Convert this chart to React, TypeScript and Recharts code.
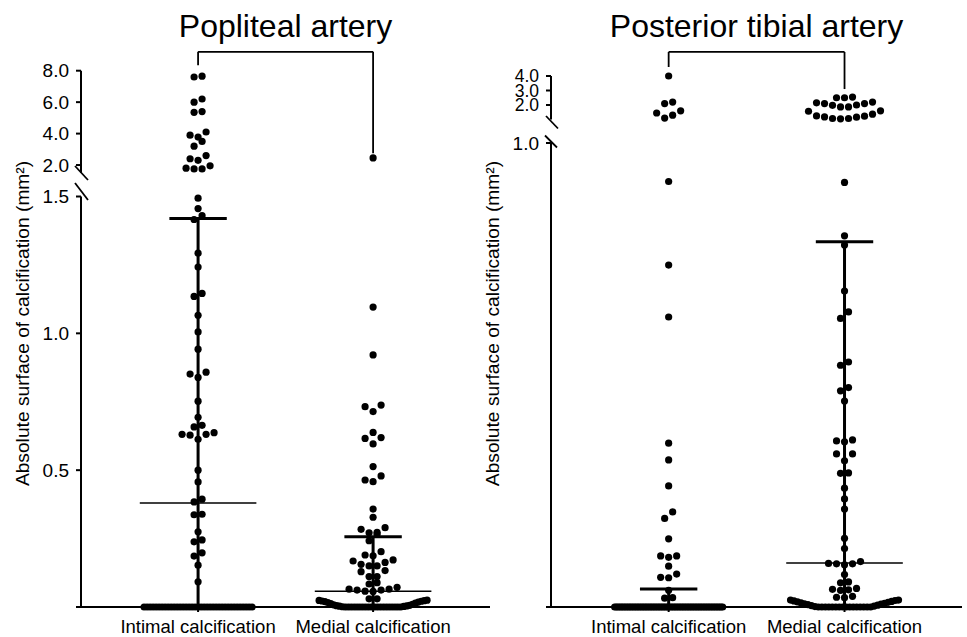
import React from 'react';
import { ScatterChart, Scatter, XAxis, YAxis, ReferenceLine } from 'recharts';

const FONT = '"Liberation Sans", Arial, sans-serif';

const categories = ['Intimal calcification', 'Medial calcification'];

// Popliteal artery, absolute calcified surface (mm2)
const popIntimal = [
  7.65, 7.6, 6.2, 6.0, 5.4, 5.35, 4.1, 3.9, 3.78, 3.5, 3.2, 2.6, 2.4, 2.3, 1.95, 1.8, 1.75, 1.75,
  1.494, 1.456, 1.43, 1.416, 1.293, 1.242, 1.146, 1.135, 1.066, 1.005, 0.942, 0.858, 0.851, 0.839,
  0.752, 0.693, 0.664, 0.658, 0.637, 0.631, 0.631, 0.628, 0.613, 0.5, 0.457, 0.394, 0.384, 0.339,
  0.337, 0.275, 0.245, 0.238, 0.198, 0.186, 0.153, 0.092,
  0, 0, 0, 0, 0, 0, 0, 0, 0, 0,
  0, 0, 0, 0, 0, 0, 0, 0, 0, 0,
  0, 0, 0, 0, 0, 0, 0, 0, 0, 0,
  0, 0, 0, 0, 0, 0, 0,
];
const popMedial = [
  2.45, 1.096, 0.921, 0.738, 0.732, 0.714, 0.638, 0.619, 0.616, 0.596, 0.513, 0.479, 0.464, 0.458,
  0.358, 0.328, 0.29, 0.284, 0.273, 0.271, 0.266, 0.242, 0.202, 0.19, 0.187, 0.172, 0.168, 0.163,
  0.156, 0.15, 0.15, 0.133, 0.129, 0.111, 0.111, 0.089, 0.084, 0.072, 0.065, 0.065, 0.062, 0.062,
  0.058, 0.057, 0.03, 0.03,
  0.025, 0.024, 0.023, 0.022, 0.021, 0.02, 0.018, 0.016, 0.014, 0.012, 0.01, 0.008, 0.006, 0.005,
  0.004, 0.003, 0.002, 0.001,
  0, 0, 0, 0, 0, 0, 0, 0, 0, 0,
  0, 0, 0, 0, 0, 0, 0, 0, 0, 0,
];
const popMedian = [0.38, 0.058];
const popQ3 = [1.42, 0.257];

// Posterior tibial artery
const tibIntimal = [
  4.0, 2.2, 2.1, 1.6, 1.45, 1.3, 1.1,
  0.917, 0.737, 0.625, 0.353, 0.317, 0.261, 0.205, 0.191, 0.147, 0.11, 0.11, 0.107, 0.088,
  0.071, 0.064, 0.063, 0.036, 0.02, 0.019,
  0, 0, 0, 0, 0, 0, 0, 0, 0, 0,
  0, 0, 0, 0, 0, 0, 0, 0, 0, 0,
  0, 0, 0, 0, 0, 0, 0, 0, 0, 0,
  0, 0, 0, 0, 0, 0, 0, 0, 0, 0,
  0, 0, 0, 0, 0, 0, 0, 0, 0, 0,
  0, 0, 0, 0, 0, 0, 0, 0, 0, 0,
  0, 0, 0, 0, 0, 0, 0, 0,
];
const tibMedial = [
  2.55, 2.5, 2.5, 2.2, 2.15, 2.1, 2.1, 2.0, 1.98, 1.87, 1.87,
  1.6, 1.57, 1.37, 1.25, 1.23, 1.18, 1.16, 1.07, 1.07, 1.05,
  0.915, 0.8, 0.78, 0.681, 0.636, 0.622, 0.528, 0.521, 0.473, 0.466, 0.444, 0.36, 0.358, 0.356,
  0.33, 0.33, 0.315, 0.289, 0.288, 0.256, 0.233, 0.211, 0.148, 0.126, 0.098, 0.094, 0.093, 0.093,
  0.091, 0.07, 0.054, 0.052, 0.04, 0.038, 0.037, 0.036, 0.023, 0.021, 0.02,
  0.015, 0.015, 0.014, 0.013, 0.012, 0.011, 0.01, 0.009, 0.008, 0.007, 0.006, 0.005, 0.004,
  0.003, 0.002, 0.001,
  0, 0, 0, 0, 0, 0, 0, 0, 0, 0, 0, 0, 0, 0, 0, 0,
];
const tibMedian = [0, 0.095];
const tibQ3 = [0.039, 0.787];

// layout (page pixels)
const PAGE_H = 637;
const Y_W = 60;
const X_H = 30;
const X_DOMAIN = [0.331, 2.668];
const DOT_R = 3.6;
const GAP = 8;
const MAX_HALF = 54;
const CAP_HALF = 28.7;
const MED_HALF = 58.3;

const POP = {
  title: 'Popliteal artery',
  axisX: 81,
  right: 490,
  breakAt: 1.5,
  lower: { top: 196.5, bottom: 607, domain: [0, 1.5], ticks: [0, 0.5, 1, 1.5], fs: 19 },
  upper: { top: 70.7, bottom: 172.9, domain: [1.5, 8], ticks: [2, 4, 6, 8], fs: 19 },
  bracket: { top: 9.2, left: 8.35, right: 2.75 },
  slashes: [[75, 166, 88, 180], [75, 183, 88, 200]],
};
const TIB = {
  title: 'Posterior tibial artery',
  axisX: 551,
  right: 962,
  breakAt: 1.0,
  lower: { top: 143, bottom: 607, domain: [0, 1], ticks: [0, 1], fs: 19 },
  upper: { top: 76, bottom: 119.5, domain: [1, 4], ticks: [2, 3, 4], fs: 17.5 },
  bracket: { top: 5.66, left: 4.62, right: 3.1 },
  slashes: [[546, 116, 558, 128.5], [545, 135.5, 557, 147.5]],
};

// GraphPad-like scatter layout: rows of close values spread side by side
function swarm(values: number[], cat: number, seg: any, unitPx: number, rowH: number) {
  const scale = (seg.bottom - seg.top) / (seg.domain[1] - seg.domain[0]);
  const sorted = [...values].sort((a, b) => a - b);
  const rows: number[][] = [];
  for (const v of sorted) {
    const last = rows[rows.length - 1];
    if (last && (v - last[0]) * scale <= rowH) last.push(v);
    else rows.push([v]);
  }
  const out: { x: number; y: number }[] = [];
  rows.forEach((row) => {
    const n = row.length;
    const sp = n > 1 ? Math.min(GAP, (2 * MAX_HALF) / (n - 1)) : 0;
    row.forEach((v, i) => {
      const slot = n % 2 === 1
        ? Math.ceil(i / 2) * (i % 2 === 1 ? -1 : 1)
        : (Math.floor(i / 2) + 0.5) * (i % 2 === 0 ? -1 : 1);
      out.push({ x: cat + (slot * sp) / unitPx, y: v });
    });
  });
  return out;
}

const Dot = (p: any) => <circle cx={p.cx} cy={p.cy} r={DOT_R} fill="#000" />;

function Segment({ geo, part, groups, median, q3 }: any) {
  const seg = geo[part];
  const isLower = part === 'lower';
  const wrapLeft = geo.axisX - 81;
  const width = geo.right - wrapLeft + 6;
  const unitPx = (geo.right - geo.axisX) / (X_DOMAIN[1] - X_DOMAIN[0]);
  const rowH = isLower ? 7 : 8.5;
  const points = groups.flatMap((vals: number[], i: number) =>
    swarm(vals.filter((v) => (isLower ? v <= geo.breakAt : v > geo.breakAt)), i + 1, seg, unitPx, rowH)
  );
  const b = geo.bracket;
  return (
    <div style={{ position: 'absolute', left: wrapLeft, top: 0 }}>
      <ScatterChart
        width={width}
        height={PAGE_H}
        margin={{ top: seg.top, right: 6, left: 81 - Y_W, bottom: PAGE_H - seg.bottom - (isLower ? X_H : 0) }}
      >
        <XAxis
          type="number"
          dataKey="x"
          domain={X_DOMAIN}
          ticks={[1, 2]}
          interval={0}
          hide={!isLower}
          height={X_H}
          tickFormatter={(v: number) => categories[Math.round(v) - 1]}
          axisLine={{ stroke: '#000', strokeWidth: 2 }}
          tickLine={{ stroke: '#000', strokeWidth: 2 }}
          tickSize={5}
          tickMargin={8}
          tick={{ fill: '#000', fontSize: 18.5, fontFamily: FONT }}
        />
        <YAxis
          type="number"
          dataKey="y"
          domain={seg.domain}
          ticks={seg.ticks}
          interval={0}
          width={Y_W}
          tickFormatter={(v: number) => (v === 0 ? '' : v.toFixed(1))}
          axisLine={{ stroke: '#000', strokeWidth: 2 }}
          tickLine={{ stroke: '#000', strokeWidth: 2 }}
          tickSize={5}
          tickMargin={7}
          tick={{ fill: '#000', fontSize: seg.fs, fontFamily: FONT }}
        />
        <Scatter data={points} isAnimationActive={false} shape={Dot} />
        {isLower && groups.map((_: any, i: number) => {
          const c = i + 1;
          return (
            <React.Fragment key={i}>
              <ReferenceLine ifOverflow="visible" stroke="#000" strokeWidth={1.5}
                segment={[{ x: c - MED_HALF / unitPx, y: median[i] }, { x: c + MED_HALF / unitPx, y: median[i] }]} />
              <ReferenceLine ifOverflow="visible" stroke="#000" strokeWidth={3}
                segment={[{ x: c - CAP_HALF / unitPx, y: q3[i] }, { x: c + CAP_HALF / unitPx, y: q3[i] }]} />
              <ReferenceLine ifOverflow="visible" stroke="#000" strokeWidth={3}
                segment={[{ x: c, y: 0 }, { x: c, y: q3[i] }]} />
            </React.Fragment>
          );
        })}
        {!isLower && (
          <>
            <ReferenceLine ifOverflow="visible" stroke="#000" strokeWidth={1.8}
              segment={[{ x: 1, y: b.left }, { x: 1, y: b.top }]} />
            <ReferenceLine ifOverflow="visible" stroke="#000" strokeWidth={1.8}
              segment={[{ x: 1, y: b.top }, { x: 2, y: b.top }]} />
            <ReferenceLine ifOverflow="visible" stroke="#000" strokeWidth={1.8}
              segment={[{ x: 2, y: b.top }, { x: 2, y: b.right }]} />
          </>
        )}
      </ScatterChart>
    </div>
  );
}

function Panel({ geo, groups, median, q3 }: any) {
  return (
    <>
      <Segment geo={geo} part="lower" groups={groups} median={median} q3={q3} />
      <Segment geo={geo} part="upper" groups={groups} median={median} q3={q3} />
    </>
  );
}

export default function App() {
  const panels = [POP, TIB];
  return (
    <div style={{ position: 'absolute', left: 0, top: 0, width: 967, height: PAGE_H, background: '#fff', fontFamily: FONT }}>
      <Panel geo={POP} groups={[popIntimal, popMedial]} median={popMedian} q3={popQ3} />
      <Panel geo={TIB} groups={[tibIntimal, tibMedial]} median={tibMedian} q3={tibQ3} />
      <svg width={967} height={PAGE_H} style={{ position: 'absolute', left: 0, top: 0, pointerEvents: 'none' }}>
        {panels.map((g) => (
          <g key={g.title}>
            <text x={(g.axisX + g.right) / 2} y={37} textAnchor="middle" fontSize={32} fontFamily={FONT} fill="#000">
              {g.title}
            </text>
            <text
              x={g.axisX - 52}
              y={323.5}
              transform={`rotate(-90 ${g.axisX - 52} 323.5)`}
              textAnchor="middle"
              fontSize={19.2}
              fontFamily={FONT}
              fill="#000"
            >
              Absolute surface of calcification (mm²)
            </text>
            {g.slashes.map((s, i) => (
              <line key={i} x1={s[0]} y1={s[1]} x2={s[2]} y2={s[3]} stroke="#000" strokeWidth={1.8} />
            ))}
          </g>
        ))}
      </svg>
    </div>
  );
}
